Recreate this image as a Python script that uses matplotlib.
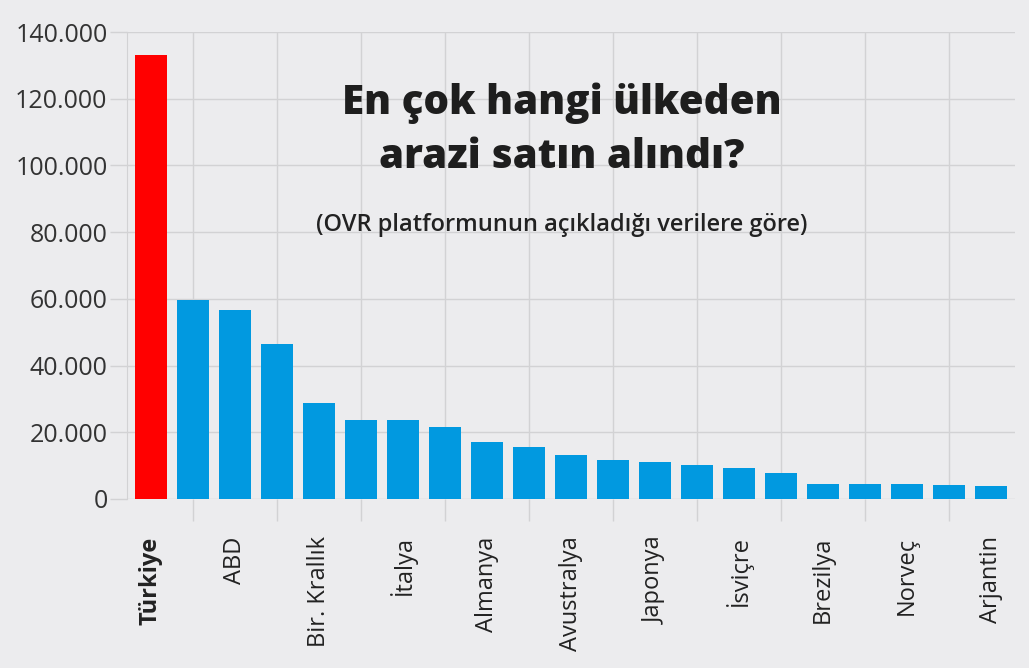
import matplotlib.pyplot as plt
from matplotlib.ticker import FuncFormatter, FixedLocator

# veriler (grafikten okunan tahmini değerler)
ulkeler = ["Türkiye", "", "ABD", "", "Bir. Krallık", "", "İtalya", "", "Almanya", "",
           "Avustralya", "", "Japonya", "", "İsviçre", "", "Brezilya", "", "Norveç", "", "Arjantin"]
arazi = [133200, 59800, 56800, 46600, 28900, 23600, 23600, 21500, 17200, 15700,
         13300, 11700, 11000, 10200, 9200, 7800, 4500, 4500, 4500, 4200, 3800]
y_ticks = [0, 20000, 40000, 60000, 80000, 100000, 120000, 140000]

baslik = "En çok hangi ülkeden\narazi satın alındı?"
alt_baslik = "(OVR platformunun açıkladığı verilere göre)"

BG = "#ececee"
GRID = "#d2d2d4"
FONT = ["Open Sans", "DejaVu Sans"]
plt.rcParams['font.family'] = FONT

fig = plt.figure(figsize=(10.29, 6.68), dpi=100, facecolor=BG)
ax = fig.add_axes([0.1234, 0.253, 0.863, 0.699])
ax.set_facecolor(BG)

x = list(range(len(arazi)))
renkler = ["#ff0000"] + ["#0199e0"] * (len(arazi) - 1)
ax.bar(x, arazi, width=0.77, color=renkler, zorder=3)

ax.set_xlim(-0.57, len(arazi) - 0.43)
ax.set_ylim(0, 140000)

# y ekseni
ax.set_yticks(y_ticks)
ax.yaxis.set_major_formatter(FuncFormatter(lambda v, p: f"{int(v):,}".replace(",", ".")))
ax.tick_params(axis='y', length=12, width=1, color=GRID, pad=2, labelsize=18, labelcolor="#333333")

# x ekseni: çizgiler tek indekslerde, etiketler çift indekslerde
ax.xaxis.set_major_locator(FixedLocator([i for i in x if i % 2 == 1]))
ax.xaxis.set_major_formatter(FuncFormatter(lambda v, p: ""))
ax.xaxis.set_minor_locator(FixedLocator([i for i in x if i % 2 == 0]))
ax.set_xticklabels([ulkeler[i] for i in x if i % 2 == 0], minor=True, rotation=90,
                   ha='center', va='top', fontsize=17, color="#222222")
ax.tick_params(axis='x', which='major', length=16, width=1, color=GRID)
ax.tick_params(axis='x', which='minor', length=0, pad=27)
ax.get_xticklabels(minor=True)[0].set_fontweight('bold')

ax.grid(True, which='major', color=GRID, linewidth=1, zorder=0)
for s in ["top", "right", "bottom"]:
    ax.spines[s].set_visible(False)
ax.spines["left"].set_color(GRID)

fig.text(0.546, 0.805, baslik, ha='center', va='center', fontsize=29, fontweight='heavy',
         color="#1e1e1e", linespacing=1.4)
fig.text(0.546, 0.663, alt_baslik, ha='center', va='center', fontsize=17, fontweight='semibold',
         color="#222222")

fig.savefig("out.png", dpi=100, facecolor=BG)
